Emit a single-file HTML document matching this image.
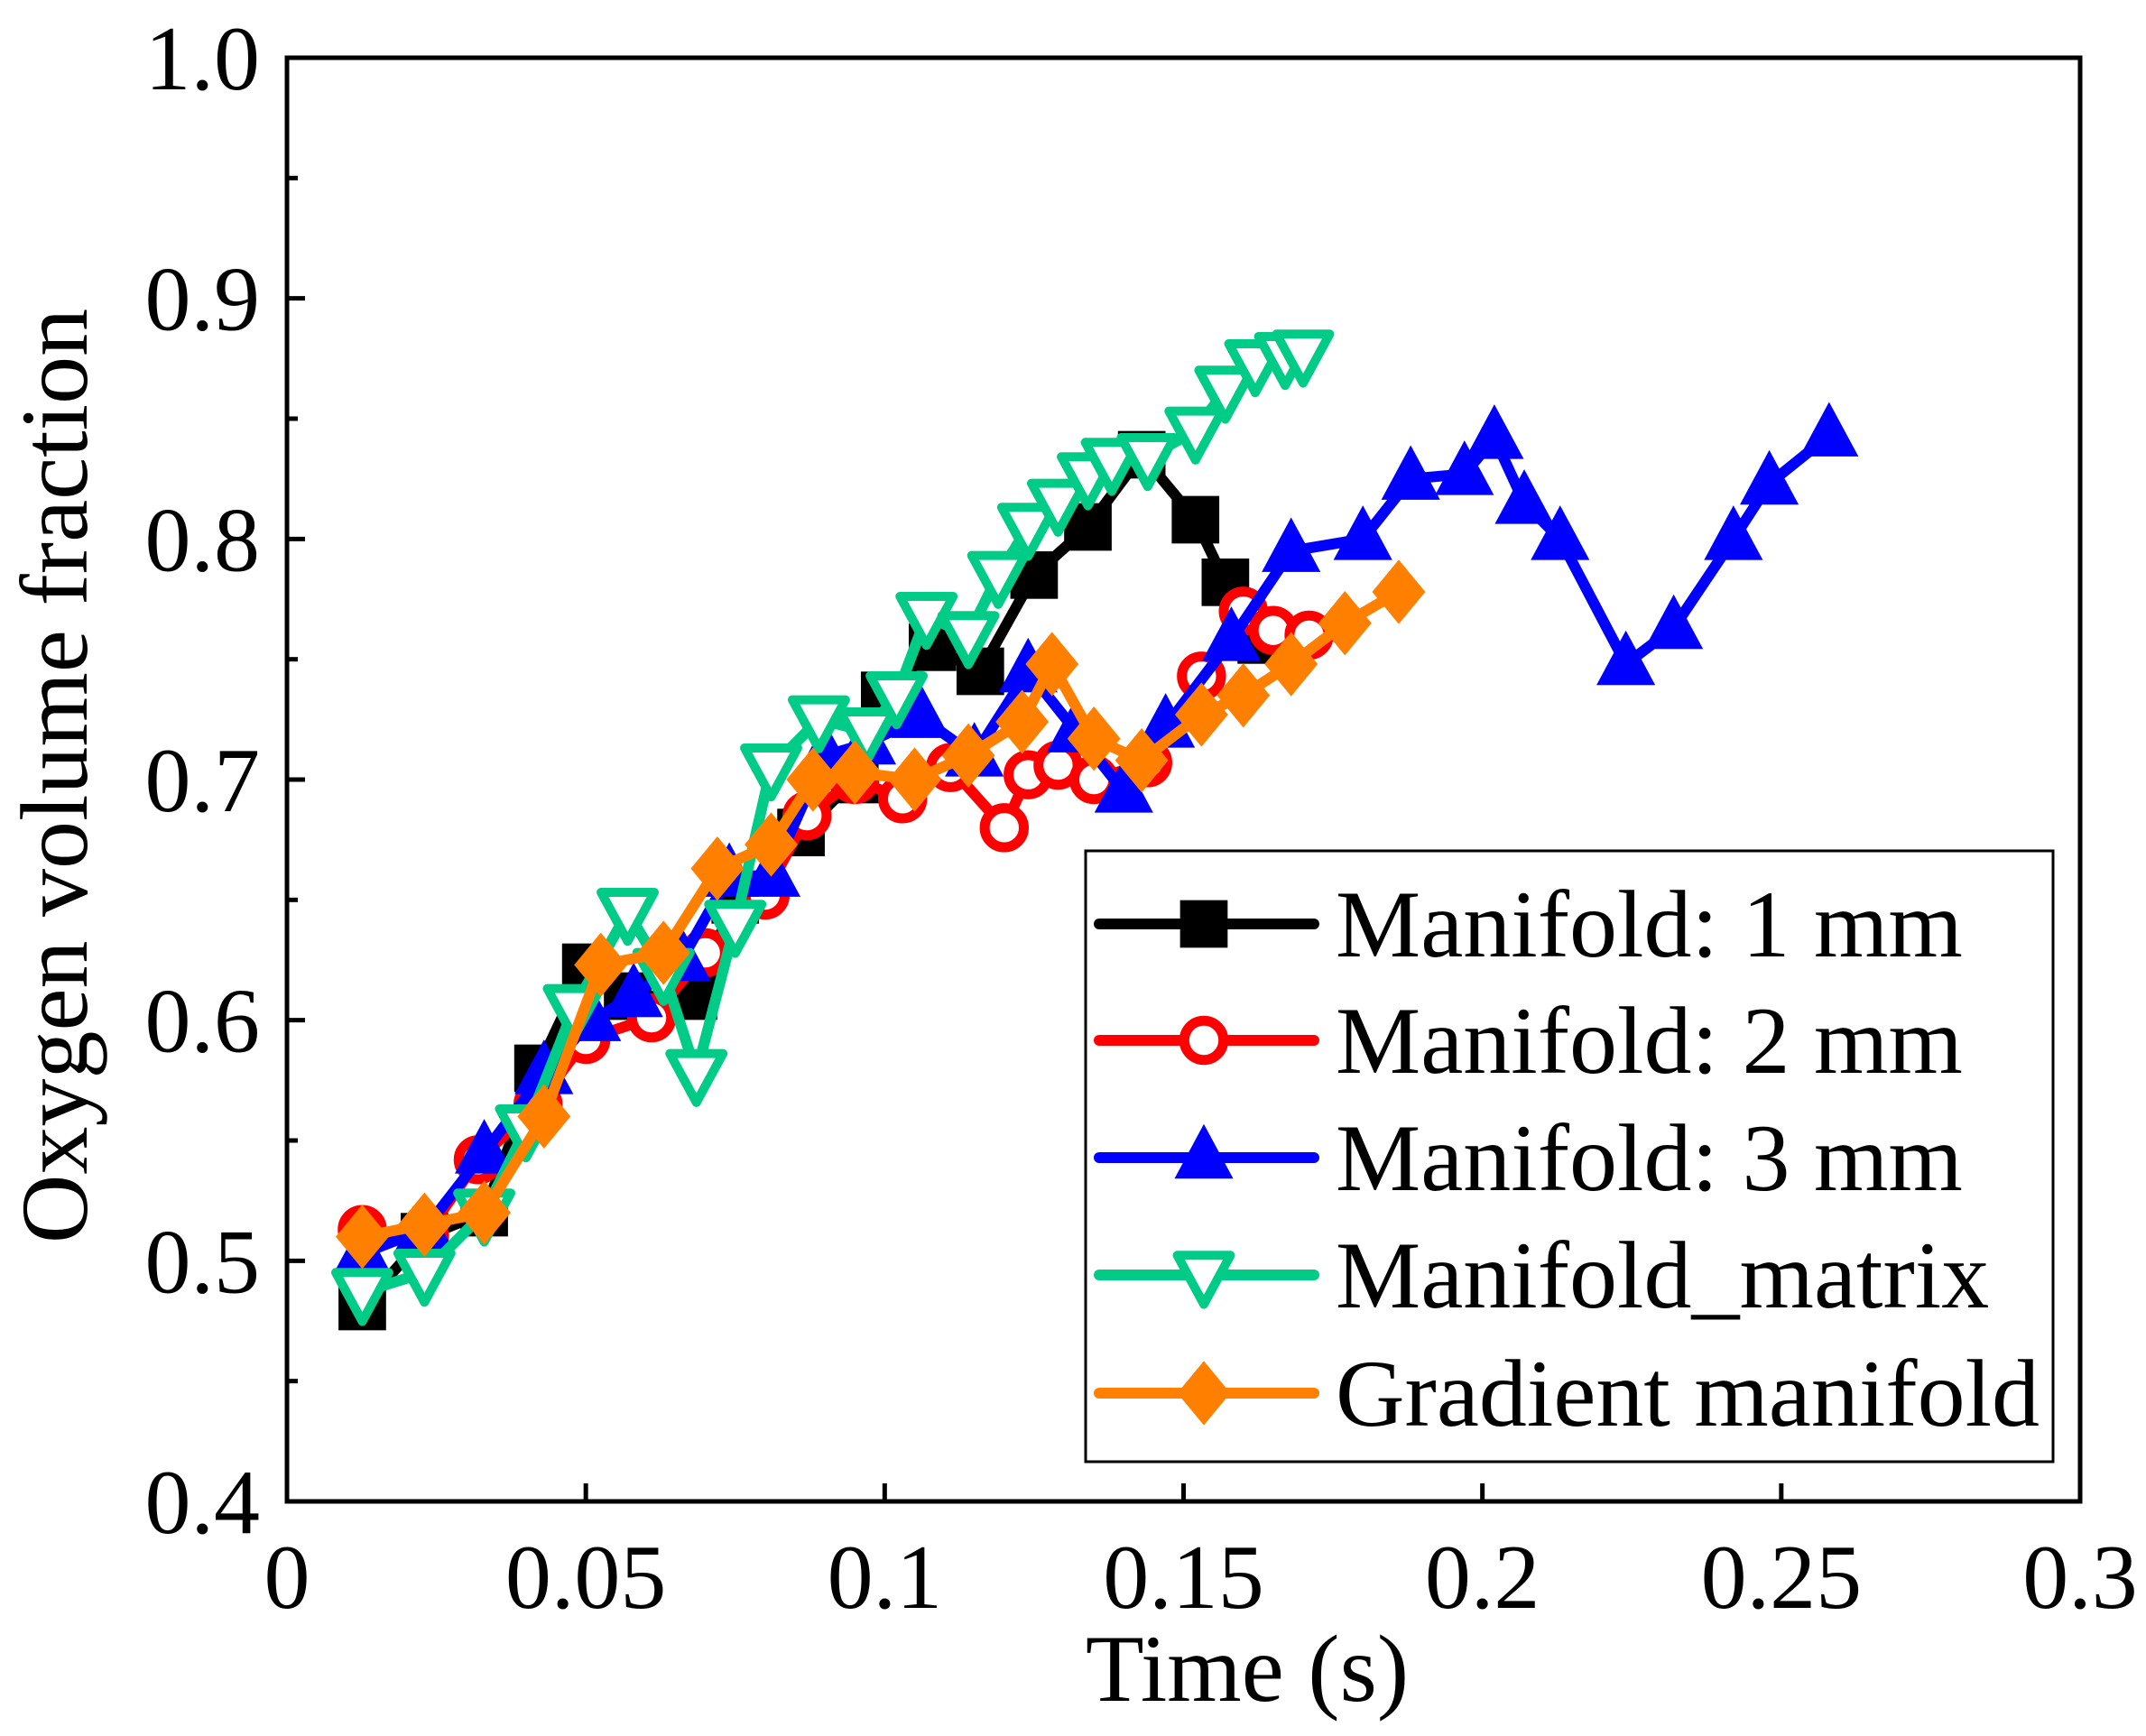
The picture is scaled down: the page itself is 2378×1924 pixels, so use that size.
<!DOCTYPE html>
<html><head><meta charset="utf-8"><style>
html,body{margin:0;padding:0;background:#fff;}
svg{display:block;font-family:"Liberation Serif",serif;}
</style></head><body>
<svg id="chart" width="2378" height="1924" viewBox="0 0 2378 1924" xmlns="http://www.w3.org/2000/svg">
<rect width="2378" height="1924" fill="#fff"/>
<g id="marks"></g>
<g id="axes"></g>
<g id="legend"></g>
</svg>
<script>
const xTicks=[0,0.05,0.1,0.15,0.2,0.25,0.3];
const xTickLabels=["0","0.05","0.1","0.15","0.2","0.25","0.3"];
const yTicks=[0.4,0.5,0.6,0.7,0.8,0.9,1.0];
const yTickLabels=["0.4","0.5","0.6","0.7","0.8","0.9","1.0"];
const seriesNames=["Manifold: 1 mm","Manifold: 2 mm","Manifold: 3 mm","Manifold_matrix","Gradient manifold"];
const t1=[0.0126,0.023,0.033,0.042,0.05,0.057,0.068,0.075,0.086,0.095,0.1,0.108,0.116,0.125,0.134,0.143,0.152,0.157,0.163];
const v1=[0.481,0.51,0.52,0.58,0.622,0.61,0.61,0.65,0.678,0.70,0.735,0.755,0.745,0.785,0.805,0.835,0.808,0.782,0.758];
const t2=[0.0126,0.023,0.032,0.042,0.05,0.061,0.07,0.08,0.087,0.095,0.103,0.111,0.12,0.124,0.129,0.135,0.144,0.153,0.16,0.165,0.171];
const v2=[0.513,0.51,0.542,0.565,0.592,0.601,0.628,0.652,0.685,0.70,0.692,0.705,0.68,0.702,0.706,0.70,0.707,0.743,0.77,0.762,0.76];
const t3=[0.0126,0.023,0.033,0.043,0.051,0.058,0.066,0.074,0.081,0.09,0.097,0.106,0.115,0.124,0.132,0.14,0.147,0.158,0.168,0.18,0.188,0.197,0.202,0.207,0.213,0.224,0.232,0.242,0.248,0.258];
const v3=[0.503,0.513,0.545,0.578,0.60,0.61,0.625,0.66,0.66,0.71,0.715,0.726,0.71,0.745,0.72,0.695,0.722,0.758,0.795,0.80,0.825,0.827,0.842,0.815,0.80,0.748,0.763,0.80,0.823,0.843];
const t4=[0.0126,0.023,0.033,0.04,0.048,0.057,0.063,0.0685,0.075,0.081,0.089,0.097,0.102,0.107,0.114,0.119,0.124,0.129,0.134,0.138,0.144,0.152,0.157,0.162,0.167,0.17];
const v4=[0.487,0.495,0.52,0.555,0.605,0.645,0.62,0.578,0.64,0.705,0.725,0.72,0.735,0.768,0.76,0.785,0.805,0.815,0.826,0.832,0.834,0.845,0.862,0.873,0.876,0.877];
const t5=[0.0126,0.023,0.033,0.043,0.0525,0.063,0.072,0.081,0.088,0.095,0.105,0.114,0.123,0.128,0.135,0.143,0.153,0.16,0.168,0.177,0.186];
const v5=[0.51,0.515,0.52,0.56,0.623,0.628,0.663,0.673,0.70,0.703,0.70,0.71,0.724,0.748,0.717,0.708,0.727,0.735,0.748,0.765,0.778];

const L=318,R=2305,T=64,B=1664;
const X=v=>L+(v-0)/(0.3)*(R-L);
const Y=v=>B-(v-0.4)/(0.6)*(B-T);
const NS="http://www.w3.org/2000/svg";
function mk(tag,attrs,parent){const e=document.createElementNS(NS,tag);for(const k in attrs)e.setAttribute(k,attrs[k]);parent.appendChild(e);return e;}
const marks=document.getElementById('marks'),axes=document.getElementById('axes'),leg=document.getElementById('legend');
const styles=[{c:"#000000",m:"square"},{c:"#ff0000",m:"circle"},{c:"#0000ff",m:"tri"},{c:"#00cc88",m:"itri"},{c:"#ff8000",m:"diamond"}];
const S=31;
function marker(g,type,c,x,y){
  let e;
  if(type==="square") e=mk('rect',{x:x-S*0.85,y:y-S*0.85,width:S*1.7,height:S*1.7,fill:c},g);
  else if(type==="circle") e=mk('circle',{cx:x,cy:y,r:S*0.7,fill:"#fff",stroke:c,"stroke-width":11},g);
  else if(type==="tri") e=mk('polygon',{points:`${x},${y-S*1.2} ${x-S*1.05},${y+S*0.75} ${x+S*1.05},${y+S*0.75}`,fill:c},g);
  else if(type==="itri") e=mk('polygon',{points:`${x},${y+S*1.05} ${x-S*0.95},${y-S*0.7} ${x+S*0.95},${y-S*0.7}`,fill:"#fff",stroke:c,"stroke-width":10,"stroke-linejoin":"round"},g);
  else e=mk('polygon',{points:`${x},${y-S*1.15} ${x+S*0.95},${y} ${x},${y+S*1.15} ${x-S*0.95},${y}`,fill:c},g);
  return e;
}
const data=[[t1,v1],[t2,v2],[t3,v3],[t4,v4],[t5,v5]];
data.forEach((d,i)=>{
  const g=mk('g',{},marks);
  
  
  const pts=d[0].map((t,j)=>X(t)+","+Y(d[1][j])).join(" ");
  const pl=mk('polyline',{points:pts,fill:"none",stroke:styles[i].c,"stroke-width":12,"stroke-linejoin":"round"},g);
  
  
  d[0].forEach((t,j)=>{
    const m=marker(g,styles[i].m,styles[i].c,X(t),Y(d[1][j]));
    
    
  });
});
const fr=mk('rect',{x:L,y:T,width:R-L,height:B-T,fill:"none",stroke:"#000","stroke-width":5},axes);


xTicks.forEach((v,i)=>{
  mk('line',{x1:X(v),x2:X(v),y1:B,y2:B-20,stroke:"#000","stroke-width":5},axes);
  const tx=mk('text',{x:X(v),y:B+118,"font-size":102,"text-anchor":"middle"},axes);
  tx.textContent=xTickLabels[i];
  
  
});
yTicks.forEach((v,i)=>{
  mk('line',{x1:L,x2:L+20,y1:Y(v),y2:Y(v),stroke:"#000","stroke-width":5},axes);
  if(i<yTicks.length-1) mk('line',{x1:L,x2:L+12,y1:Y(v+0.05),y2:Y(v+0.05),stroke:"#000","stroke-width":5},axes);
  const tx=mk('text',{x:L-30,y:Y(v)+35,"font-size":102,"text-anchor":"end"},axes);
  tx.textContent=yTickLabels[i];
  
  
});
const xt=mk('text',{x:1382,y:1885,"font-size":106,"text-anchor":"middle"},axes);
xt.textContent="Time (s)";


const yt=mk('text',{x:0,y:0,"font-size":106,"text-anchor":"middle",transform:"translate(96,860) rotate(-90)"},axes);
yt.textContent="Oxygen volume fraction";


const lb=mk('rect',{x:1203,y:943,width:1072,height:677,fill:"#fff",stroke:"#000","stroke-width":3},leg);


const rows=[1024,1153,1283,1413,1544];
seriesNames.forEach((n,i)=>{
  const g=mk('g',{},leg);
  
  
  mk('line',{x1:1218,x2:1456,y1:rows[i],y2:rows[i],stroke:styles[i].c,"stroke-width":12,"stroke-linecap":"round"},g);
  marker(g,styles[i].m,styles[i].c,1334,rows[i]);
  const tx=mk('text',{x:1480,y:rows[i]+36,"font-size":106},g);
  tx.textContent=n;
});
</script>
</body></html>
